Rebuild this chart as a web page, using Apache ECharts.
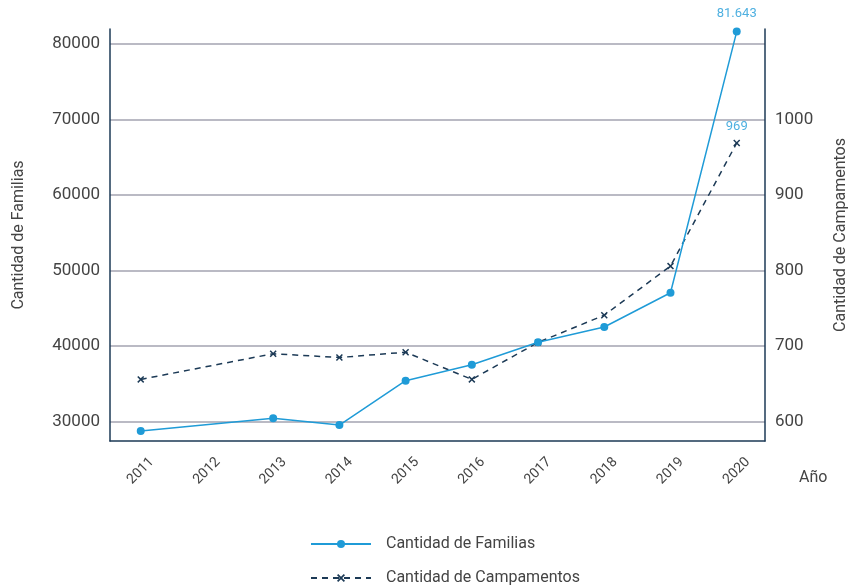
<!DOCTYPE html>
<html>
<head>
<meta charset="utf-8">
<script src="https://cdn.jsdelivr.net/npm/echarts@6/dist/echarts.min.js"></script>
<style>html,body{margin:0;padding:0;background:#fff}#c{width:848px;height:588px}</style>
</head>
<body>
<div id="c"></div>
<script>
var years = [2011, 2012, 2013, 2014, 2015, 2016, 2017, 2018, 2019, 2020];
var familias = [28770, null, 30450, 29560, 35430, 37550, 40520, 42540, 47070, 81643];
var campamentos = [656, null, 690, 685, 692, 656, 705, 741, 806, 969];
var leftTicks = [30000, 40000, 50000, 60000, 70000, 80000];
var rightTicks = [600, 700, 800, 900, 1000];

var BLUE = '#1f9bd7', NAVY = '#1c3a56', LBL = '#4fb0e0', TXT = '#444';
var FONT = 'Roboto';

function pairs(vals) {
  var out = [];
  for (var i = 0; i < years.length; i++) if (vals[i] != null) out.push([years[i], vals[i]]);
  return out;
}
function fmtDots(v) { return String(v).replace(/\B(?=(\d{3})+(?!\d))/g, '.'); }

var famData = pairs(familias).map(function (p, i, a) {
  return i === a.length - 1 ? { value: p, label: { show: true, formatter: function (d) { return fmtDots(d.value[1]); } } } : p;
});
var campData = pairs(campamentos).map(function (p, i, a) {
  return i === a.length - 1 ? { value: p, label: { show: true, formatter: function (d) { return String(d.value[1]); } } } : p;
});

var chart = echarts.init(document.getElementById('c'), null, { renderer: 'canvas' });
chart.setOption({
  animation: false,
  textStyle: { fontFamily: FONT },
  grid: { left: 110, right: 83, top: 29, bottom: 147, containLabel: false, outerBoundsMode: 'none' },
  xAxis: {
    type: 'value', min: 2010.536, max: 2020.427, splitNumber: 10,
    name: '\n\n\n\nAño', nameLocation: 'end', nameGap: 34, nameMoveOverlap: false,
    nameTextStyle: { fontSize: 16, color: TXT, fontFamily: FONT, lineHeight: 18.5, align: 'left', verticalAlign: 'middle' },
    axisLine: { show: true, lineStyle: { color: NAVY, width: 1.5 } },
    axisTick: { show: false },
    splitLine: { show: false },
    axisLabel: {
      rotate: 45, align: 'center', verticalAlign: 'middle', margin: 30,
      fontSize: 14, color: TXT, fontFamily: FONT,
      showMinLabel: false, showMaxLabel: false,
      formatter: function (v) { return years.indexOf(v) >= 0 ? String(v) : ''; }
    }
  },
  yAxis: [
    {
      type: 'value', position: 'left', min: 27445, max: 81986, splitNumber: 5,
      name: 'Cantidad de Familias', nameLocation: 'middle', nameGap: 83, nameRotate: 90,
      nameTextStyle: { fontSize: 16, color: TXT, fontFamily: FONT },
      axisLine: { show: true, lineStyle: { color: NAVY, width: 1.5 } },
      axisTick: { show: false },
      splitLine: { show: true, showMinLine: false, showMaxLine: false, lineStyle: { color: '#a3a3b1', width: 1.5 } },
      axisLabel: {
        fontSize: 17, color: TXT, fontFamily: FONT, margin: 10,
        showMinLabel: false, showMaxLabel: false,
        formatter: function (v) { return leftTicks.indexOf(v) >= 0 ? String(v) : ''; }
      }
    },
    {
      type: 'value', position: 'right', min: 574.45, max: 1119.86, splitNumber: 5,
      name: 'Cantidad de Campamentos', nameLocation: 'middle', nameGap: 68, nameRotate: 90,
      nameTextStyle: { fontSize: 16, color: TXT, fontFamily: FONT },
      axisLine: { show: true, lineStyle: { color: NAVY, width: 1.5 } },
      axisTick: { show: false },
      splitLine: { show: false },
      axisLabel: {
        fontSize: 17, color: TXT, fontFamily: FONT, margin: 10,
        showMinLabel: false, showMaxLabel: false,
        formatter: function (v) { return rightTicks.indexOf(v) >= 0 ? String(v) : ''; }
      }
    }
  ],
  legend: {
    orient: 'vertical', left: 305, top: 531, height: 80, itemWidth: 60, itemHeight: 10, itemGap: 18,
    textStyle: { fontSize: 16, color: TXT, fontFamily: FONT, padding: [0, 0, 0, 10] },
    data: ['Cantidad de Familias', 'Cantidad de Campamentos']
  },
  series: [
    {
      name: 'Cantidad de Familias', type: 'line', yAxisIndex: 0, data: famData,
      symbol: 'circle', symbolSize: 8,
      lineStyle: { color: BLUE, width: 1.5 }, itemStyle: { color: BLUE },
      label: { position: 'top', distance: 7, fontSize: 13, color: LBL, fontFamily: FONT },
      z: 3
    },
    {
      name: 'Cantidad de Campamentos', type: 'line', yAxisIndex: 1, data: campData,
      symbol: 'path://M1.5,0 L5,3.5 L8.5,0 L10,1.5 L6.5,5 L10,8.5 L8.5,10 L5,6.5 L1.5,10 L0,8.5 L3.5,5 L0,1.5 Z', symbolSize: 7,
      lineStyle: { color: NAVY, width: 1.5, type: [6, 5] }, itemStyle: { color: NAVY },
      label: { position: 'top', distance: 6, fontSize: 13, color: LBL, fontFamily: FONT },
      z: 2
    }
  ]
});
</script>
</body>
</html>
